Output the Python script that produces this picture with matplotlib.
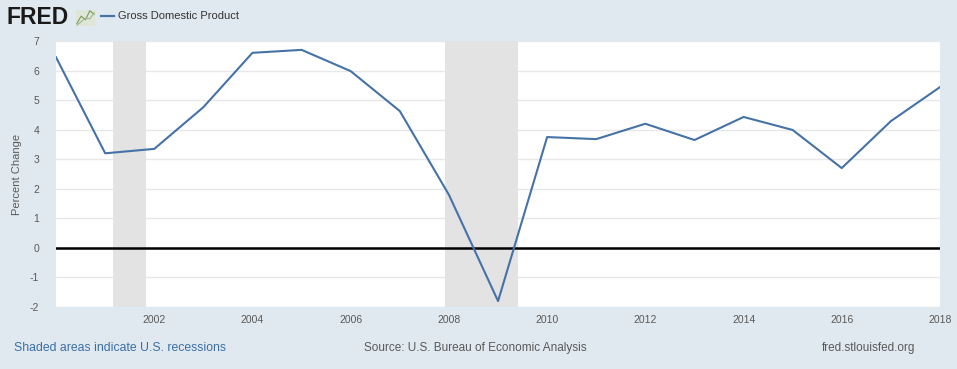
import numpy as np
import matplotlib.pyplot as plt
import matplotlib.dates as mdates
from datetime import datetime

# Donnees : variation annuelle du PIB (%)
years = list(range(2000, 2019))
gdp_change = [6.45, 3.2, 3.35, 4.76, 6.6, 6.7, 5.98, 4.63, 1.8, -1.8,
              3.75, 3.68, 4.2, 3.65, 4.43, 3.99, 2.7, 4.29, 5.44]
recessions = [("2001-03-01", "2001-11-01"), ("2007-12-01", "2009-06-01")]
tick_years = list(range(2002, 2019, 2))

plt.rcParams['font.family'] = ['Liberation Sans', 'DejaVu Sans']
plt.rcParams['axes.unicode_minus'] = False
bg = '#e1e9f0'
line_color = '#4572a7'
text_grey = '#595959'

fig = plt.figure(figsize=(9.57, 3.69), dpi=100, facecolor=bg)
ax = fig.add_axes([56 / 957, 62 / 369, 884 / 957, 266 / 369])
ax.set_facecolor('white')

dates = [datetime(y, 1, 1) for y in years]
ax.plot(dates, gdp_change, color=line_color, linewidth=1.5, zorder=3)

# Zones de recession
for start, end in recessions:
    ax.axvspan(datetime.fromisoformat(start), datetime.fromisoformat(end),
               color='#e3e3e3', zorder=1, linewidth=0)

ax.axhline(0, color='black', linewidth=1.8, zorder=2)
ax.set_ylim(-2, 7)
ax.set_yticks(range(-2, 8))
ax.set_xlim(datetime(2000, 1, 1), datetime(2018, 1, 1))
ax.set_xticks([datetime(y, 1, 1) for y in tick_years])
ax.xaxis.set_major_formatter(mdates.DateFormatter('%Y'))
ax.grid(axis='y', color='#e8e8e8', linewidth=1, zorder=0)
ax.set_axisbelow(True)

for s in ax.spines.values():
    s.set_visible(False)
ax.tick_params(length=0, labelsize=7.5, colors=text_grey, pad=6)
ax.tick_params(axis='y', pad=12)
ax.set_ylabel('Percent Change', fontsize=8, color=text_grey, labelpad=6)

# Entete : logo FRED et legende
fig.text(7 / 957, 1 - 17 / 369, 'FRED', fontsize=16.5, fontweight='bold',
         color='#1a1a1a', va='center', ha='left')
icon = fig.add_axes([76 / 957, 1 - 26 / 369, 19 / 957, 16 / 369])
icon.set_facecolor('#dfe6d8')
icon.plot([0, 1, 2, 3, 4], [0.2, 0.6, 0.4, 0.9, 0.7], color='#7a9a5a', lw=0.8)
icon.plot([0, 1, 2, 3, 4], [0.1, 0.3, 0.5, 0.45, 0.8], color='#a0b890', lw=0.8)
icon.set_xticks([])
icon.set_yticks([])
for s in icon.spines.values():
    s.set_visible(False)

fig.lines.append(plt.Line2D([101 / 957, 114 / 957], [1 - 16 / 369, 1 - 16 / 369],
                            color=line_color, linewidth=1.6, transform=fig.transFigure))
fig.text(118 / 957, 1 - 16 / 369, 'Gross Domestic Product', fontsize=8,
         color='#333333', va='center', ha='left')

# Pied de page
fig.text(14 / 957, 1 - 348 / 369, 'Shaded areas indicate U.S. recessions',
         fontsize=8.8, color='#3a6ea5', va='center', ha='left')
fig.text(475 / 957, 1 - 348 / 369, 'Source: U.S. Bureau of Economic Analysis',
         fontsize=8.5, color=text_grey, va='center', ha='center')
fig.text(915 / 957, 1 - 348 / 369, 'fred.stlouisfed.org',
         fontsize=8.5, color=text_grey, va='center', ha='right')

fig.savefig('out.png', dpi=100, facecolor=bg)
